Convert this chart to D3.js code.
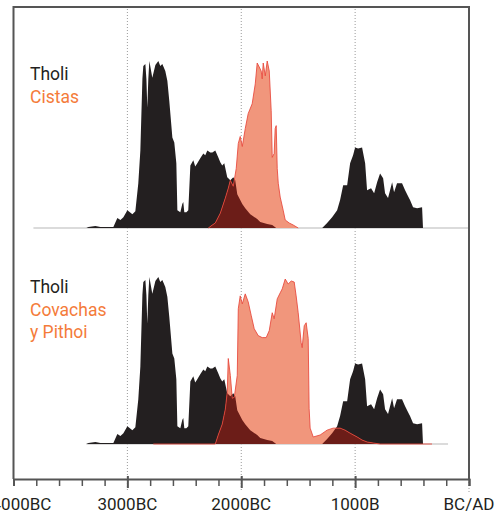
<!DOCTYPE html>
<html>
<head>
<meta charset="utf-8">
<script src="https://cdn.jsdelivr.net/npm/d3@7"></script>
<style>
  html, body { margin: 0; padding: 0; background: #fff; }
  svg { display: block; font-family: Roboto, "DejaVu Sans", sans-serif; }
</style>
</head>
<body>
<div id="chart"></div>
<script>
// years BC, relative summed probability
const tholi = [[3360,0],[3342,.006],[3281,.012],[3237,.006],[3193,.006],[3123,.006],[3088,.06],[3061,.048],[3035,.065],[3000,.107],[2956,.083],[2930,.101],[2904,.268],[2886,.464],[2868,.893],[2860,.97],[2842,.982],[2833,.893],[2825,.72],[2816,.893],[2807,1],[2781,.899],[2754,.976],[2728,1],[2711,.97],[2693,.982],[2667,.94],[2649,.881],[2632,.762],[2605,.542],[2588,.512],[2570,.387],[2561,.107],[2535,.095],[2518,.143],[2509,.155],[2500,.095],[2482,.095],[2465,.107],[2447,.375],[2421,.405],[2404,.369],[2386,.387],[2360,.417],[2333,.446],[2316,.435],[2298,.464],[2272,.452],[2254,.452],[2228,.464],[2202,.423],[2184,.393],[2167,.375],[2149,.387],[2123,.304],[2096,.286],[2070,.304],[2053,.286],[2035,.202],[2009,.167],[1991,.143],[1965,.119],[1921,.083],[1860,.054],[1833,.036],[1772,.024],[1728,.018],[1693,0],[1289,0],[1246,.03],[1202,.065],[1158,.107],[1132,.167],[1105,.256],[1070,.256],[1044,.387],[1018,.435],[1000,.482],[974,.476],[939,.482],[912,.387],[895,.226],[860,.238],[833,.208],[807,.274],[781,.327],[754,.298],[737,.208],[711,.179],[675,.274],[658,.214],[632,.268],[588,.268],[561,.226],[535,.19],[518,.167],[491,.125],[456,.119],[412,.125],[404,0]];

const cistas = [[2289,0],[2254,.018],[2228,.03],[2184,.089],[2140,.179],[2114,.238],[2096,.286],[2070,.25],[2044,.357],[2026,.506],[2009,.548],[1991,.488],[1965,.595],[1939,.685],[1904,.744],[1877,.863],[1860,.988],[1842,.964],[1825,.94],[1816,.893],[1807,.988],[1789,.911],[1772,1],[1754,.94],[1737,.702],[1728,.423],[1711,.446],[1702,.595],[1693,.613],[1684,.357],[1675,.268],[1658,.185],[1632,.107],[1614,.048],[1579,.03],[1544,.018],[1500,0]];

const covachas = [[2772,0],[2228,0],[2202,.054],[2167,.119],[2140,.208],[2123,.31],[2114,.512],[2096,.411],[2079,.274],[2061,.28],[2035,.411],[2026,.81],[2009,.887],[1991,.839],[1965,.899],[1939,.851],[1912,.768],[1886,.69],[1851,.649],[1816,.637],[1781,.637],[1754,.679],[1728,.786],[1711,.75],[1684,.869],[1658,.905],[1640,.929],[1614,.988],[1588,.958],[1561,.976],[1535,.97],[1518,.887],[1500,.786],[1474,.607],[1465,.577],[1447,.708],[1430,.726],[1412,.631],[1404,.214],[1395,.095],[1368,.042],[1307,.054],[1246,.083],[1193,.095],[1132,.095],[1088,.083],[1044,.065],[982,.042],[939,.024],[895,.012],[842,.006],[781,0],[325,0]];

const tickYears = [4000,3800,3600,3400,3200,3000,2800,2600,2400,2200,2000,1800,1600,1400,1200,1000,800,600,400,200,0];
const labelYears = [4000,3000,2000,1000,0];
const tickLabels = ['4000BC','3000BC','2000BC','1000B','BC/AD'];
const gridYears = [3000,2000,1000];

const panels = [
  {id: 'top', other: cistas, labels: ['Tholi', 'Cistas'], base: [3825, 0]},
  {id: 'bottom', other: covachas, labels: ['Tholi', 'Covachas', 'y Pithoi'], base: [3360, 184]}
];

const width = 499, height = 516;
const x = d3.scaleLinear().domain([4000, 0]).range([13.5, 469]);
const axisY = 479;
const black = '#231f20', salmon = '#f1967c', darkRed = '#6c1d18', red = '#e8473b', orange = '#f47b3a';

const svg = d3.select('#chart').append('svg').attr('width', width).attr('height', height);

// grid
svg.append('g').selectAll('line').data(gridYears).enter().append('line')
  .attr('x1', d => x(d)).attr('x2', d => x(d)).attr('y1', 9).attr('y2', 492)
  .attr('stroke', '#9a9a9a').attr('stroke-width', 1).attr('stroke-dasharray', '1,2');
svg.append('line').attr('x1', x(0)).attr('x2', x(0)).attr('y1', axisY).attr('y2', 492)
  .attr('stroke', '#9a9a9a').attr('stroke-width', 1).attr('stroke-dasharray', '1,2');

const panelTops = {top: 228, bottom: 444};

panels.forEach((p, i) => {
  const b = panelTops[p.id];
  const y = d3.scaleLinear().domain([0, 1]).range([b, b - 167]);
  const g = svg.append('g').attr('class', 'panel-' + p.id);

  g.append('line').attr('x1', x(p.base[0])).attr('x2', x(p.base[1])).attr('y1', y(0)).attr('y2', y(0))
    .attr('stroke', '#cfcfcf').attr('stroke-width', 1.5);

  const area = d3.area().x(d => x(d[0])).y0(y(0)).y1(d => y(d[1]));
  const line = d3.line().x(d => x(d[0])).y(d => y(d[1]));

  g.append('path').attr('d', area(tholi)).attr('fill', black);
  g.append('path').attr('d', area(p.other)).attr('fill', salmon);

  g.append('clipPath').attr('id', 'clip-' + p.id).append('path').attr('d', area(tholi));
  g.append('path').attr('d', area(p.other)).attr('fill', darkRed).attr('clip-path', `url(#clip-${p.id})`);
  g.append('path').attr('d', line(p.other)).attr('fill', 'none').attr('stroke', red).attr('stroke-width', 1).attr('stroke-opacity', 0.85);

  const ty = i === 0 ? 80 : 293;
  g.selectAll('.legend').data(p.labels).enter().append('text').attr('class', 'legend')
    .attr('x', 30).attr('y', (d, j) => ty + j * 22.5)
    .attr('font-size', 17.5)
    .attr('fill', (d, j) => j === 0 ? black : orange)
    .text(d => d);
});

// frame
svg.append('path')
  .attr('d', d3.line()([[x(4000), axisY], [x(4000), 7], [x(0), 7], [x(0), axisY]]))
  .attr('fill', 'none').attr('stroke', '#555').attr('stroke-width', 2);

// axis
const axis = d3.axisBottom(x).tickValues(tickYears).tickSize(7).tickFormat('');
const gx = svg.append('g').attr('transform', `translate(0,${axisY})`).call(axis);
gx.select('.domain').attr('stroke', '#555').attr('stroke-width', 2);
gx.selectAll('.tick line').attr('stroke', '#555').attr('stroke-width', d => labelYears.includes(d) ? 2 : 1.5)
  .attr('y1', d => (labelYears.includes(d) && d !== 4000 && d !== 0) ? -3 : 0)
  .attr('y2', d => labelYears.includes(d) && d !== 4000 && d !== 0 ? 9 : 7);

svg.append('g').selectAll('text').data(labelYears).enter().append('text')
  .attr('x', (d, i) => x(d) + (i === 0 ? 8 : 0)).attr('y', 510)
  .attr('text-anchor', 'middle').attr('font-size', 17).attr('fill', black)
  .text((d, i) => tickLabels[i]);
</script>
</body>
</html>
